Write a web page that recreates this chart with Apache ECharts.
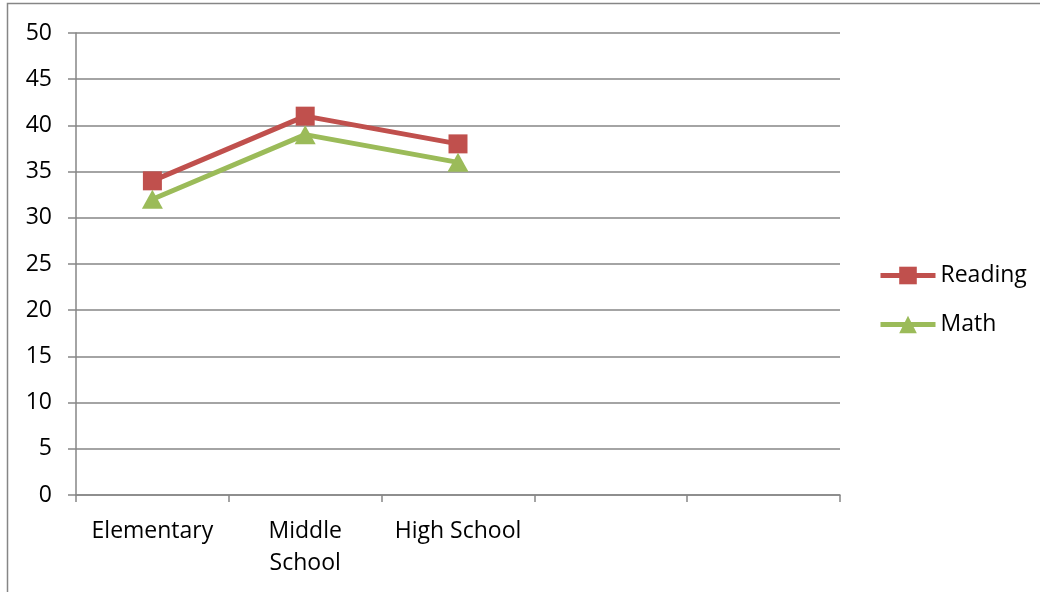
<!DOCTYPE html>
<html>
<head>
<meta charset="utf-8">
<script src="https://cdn.jsdelivr.net/npm/echarts@6/dist/echarts.min.js"></script>
<style>
  html, body { margin: 0; padding: 0; background: #ffffff; }
  #chart { width: 1040px; height: 592px; }
</style>
</head>
<body>
<div id="chart"></div>
<script>
// School levels along the x axis (two trailing empty slots keep the axis width)
const categories = ['Elementary', 'Middle\nSchool', 'High School', '', ''];
// Average scores per level
const readingScores = [34, 41, 38];
const mathScores = [32, 39, 36];
// Value axis range
const yMin = 0;
const yMax = 50;
const yStep = 5;

const FONT = '"Open Sans", "Noto Sans", sans-serif';
const GRID_GREY = '#868686';

const chart = echarts.init(document.getElementById('chart'), null, { renderer: 'canvas' });

chart.setOption({
  backgroundColor: '#ffffff',
  animation: false,
  textStyle: { fontFamily: FONT },
  graphic: [{
    type: 'rect',
    shape: { x: 7.5, y: 3.5, width: 1200, height: 800 },
    style: { fill: 'none', stroke: GRID_GREY, lineWidth: 1.5 },
    silent: true,
    z: -10
  }],
  grid: { left: 76, top: 33, right: 200, bottom: 97 },
  legend: {
    orient: 'vertical',
    left: 873,
    top: 259,
    itemWidth: 55,
    itemHeight: 22,
    itemGap: 26,
    lineStyle: { width: 5 },
    textStyle: { fontFamily: FONT, fontSize: 23, color: '#000000', lineHeight: 22 },
    data: ['Reading', 'Math']
  },
  xAxis: {
    type: 'category',
    data: categories,
    boundaryGap: true,
    axisLine: { lineStyle: { color: GRID_GREY, width: 1.5 } },
    axisTick: { show: true, length: 7, lineStyle: { color: GRID_GREY, width: 1.5 } },
    axisLabel: {
      interval: 0,
      margin: 20,
      fontFamily: FONT,
      fontSize: 23,
      lineHeight: 32,
      color: '#000000'
    },
    splitLine: { show: false }
  },
  yAxis: {
    type: 'value',
    min: yMin,
    max: yMax,
    interval: yStep,
    axisLine: { show: true, lineStyle: { color: GRID_GREY, width: 1.5 } },
    axisTick: { show: true, length: 8, lineStyle: { color: GRID_GREY, width: 1.5 } },
    axisLabel: {
      margin: 24,
      fontFamily: FONT,
      fontSize: 23,
      color: '#000000'
    },
    splitLine: { show: true, lineStyle: { color: GRID_GREY, width: 1.5 } }
  },
  series: [
    {
      name: 'Reading',
      type: 'line',
      data: readingScores,
      symbol: 'rect',
      symbolSize: 19,
      color: '#C0504D',
      lineStyle: { color: '#C0504D', width: 5 },
      itemStyle: { color: '#C0504D' }
    },
    {
      name: 'Math',
      type: 'line',
      data: mathScores,
      symbol: 'triangle',
      symbolSize: [21, 19],
      color: '#9BBB59',
      lineStyle: { color: '#9BBB59', width: 5 },
      itemStyle: { color: '#9BBB59' }
    }
  ]
});
</script>
</body>
</html>
